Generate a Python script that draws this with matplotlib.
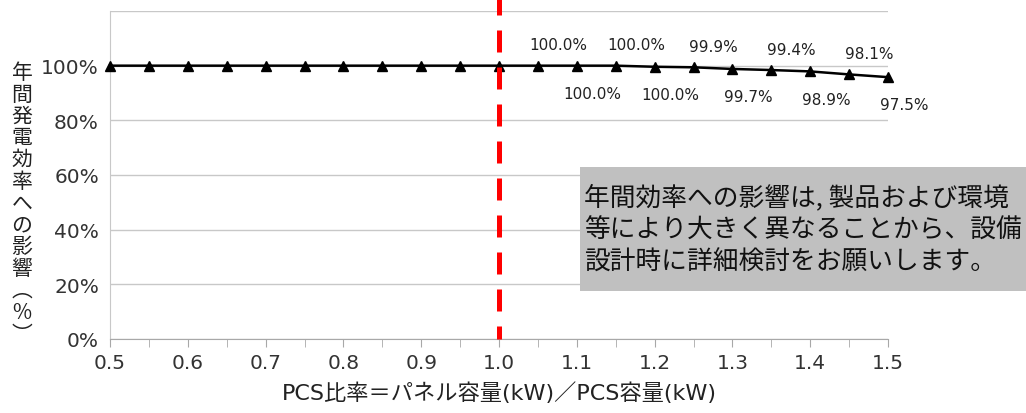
import matplotlib
matplotlib.use("Agg")
import matplotlib.pyplot as plt
from matplotlib.patches import Rectangle
from matplotlib.ticker import MultipleLocator

plt.rcParams['font.family'] = ['DejaVu Sans', 'Noto Sans CJK JP']

# PCS ratio and annual efficiency (%), line positions as drawn in the chart
pcs_ratio = [0.50, 0.55, 0.60, 0.65, 0.70, 0.75, 0.80, 0.85, 0.90, 0.95, 1.00,
             1.05, 1.10, 1.15, 1.20, 1.25, 1.30, 1.35, 1.40, 1.45, 1.50]
efficiency = [100.0, 100.0, 100.0, 100.0, 100.0, 100.0, 100.0, 100.0, 100.0, 100.0, 100.0,
              100.0, 100.0, 100.0, 99.6, 99.4, 98.8, 98.4, 97.9, 96.8, 95.8]

# data labels as printed: (x, text) above the line / below the line
label_above = [(1.05, "100.0%"), (1.15, "100.0%"), (1.25, "99.9%"), (1.35, "99.4%"), (1.45, "98.1%")]
label_below = [(1.10, "100.0%"), (1.20, "100.0%"), (1.30, "99.7%"), (1.40, "98.9%"), (1.50, "97.5%")]

y_ticks = [0, 20, 40, 60, 80, 100]
x_ticks = [0.5, 0.6, 0.7, 0.8, 0.9, 1.0, 1.1, 1.2, 1.3, 1.4, 1.5]

note = "年間効率への影響は, 製品および環境\n等により大きく異なることから、設備\n設計時に詳細検討をお願いします。"
ylabel_chars = list("年間発電効率への影響") + ["︵", "%", "︶"]
xlabel = "PCS比率＝パネル容量(kW)／PCS容量(kW)"

W, H = 1026, 414
fig = plt.figure(figsize=(W / 100, H / 100), dpi=100)
ax = fig.add_axes([110 / W, 1 - 340 / H, 778 / W, 328 / H])

ax.set_xlim(0.5, 1.5)
ax.set_ylim(0, 120)
ax.set_yticks(y_ticks + [120])
ax.set_yticklabels([f"{v}%" for v in y_ticks] + [""])
ax.set_xticks(x_ticks)
ax.set_xticklabels([f"{v:.1f}" for v in x_ticks])
ax.xaxis.set_minor_locator(MultipleLocator(0.05))

ax.grid(axis='y', color='#c8c8c8', linewidth=1)
ax.set_axisbelow(True)
for s in ['top', 'right']:
    ax.spines[s].set_visible(False)
ax.spines['left'].set_color('#c8c8c8')
ax.spines['bottom'].set_color('#a8a8a8')
ax.tick_params(axis='y', length=0, labelsize=14.5, colors='#333333', pad=8)
ax.tick_params(axis='x', which='both', length=6, color='#a8a8a8', labelsize=14.5,
               labelcolor='#333333', pad=4)

ax.plot(pcs_ratio, efficiency, color='black', linewidth=1.8, marker='^',
        markersize=6.5, zorder=5, clip_on=False)

ax.axvline(1.0, ymin=0, ymax=340 / 328, color='#ff0000', linewidth=3.6,
           linestyle=(1.8, (4.4, 3.0)), zorder=6, clip_on=False)

pts = dict(zip(pcs_ratio, efficiency))
for x, txt in label_above:
    ax.annotate(txt, (x, pts[x]), xytext=(14.5, 15), textcoords='offset points',
                ha='center', va='center', fontsize=11, color='#222222')
for x, txt in label_below:
    ax.annotate(txt, (x, pts[x]), xytext=(11.5, -20), textcoords='offset points',
                ha='center', va='center', fontsize=11, color='#222222')

ax.set_xlabel(xlabel, fontsize=16, color='#222222', labelpad=7)

for i, ch in enumerate(ylabel_chars):
    fig.text(22 / W, 1 - (73 + i * 21.8) / H, ch, fontsize=15, ha='center',
             va='center', color='#222222', family=['Noto Sans CJK JP', 'DejaVu Sans'])

fig.add_artist(Rectangle((580 / W, 1 - 292 / H), 446 / W, 124 / H,
                         transform=fig.transFigure, facecolor='#c0c0c0',
                         edgecolor='none', zorder=7))
fig.text(584 / W, 1 - 230 / H, note, fontsize=18.5, ha='left', va='center',
         linespacing=1.3, color='#111111', zorder=8,
         family=['Noto Sans CJK JP', 'DejaVu Sans'])

fig.savefig("out.png", dpi=100)
